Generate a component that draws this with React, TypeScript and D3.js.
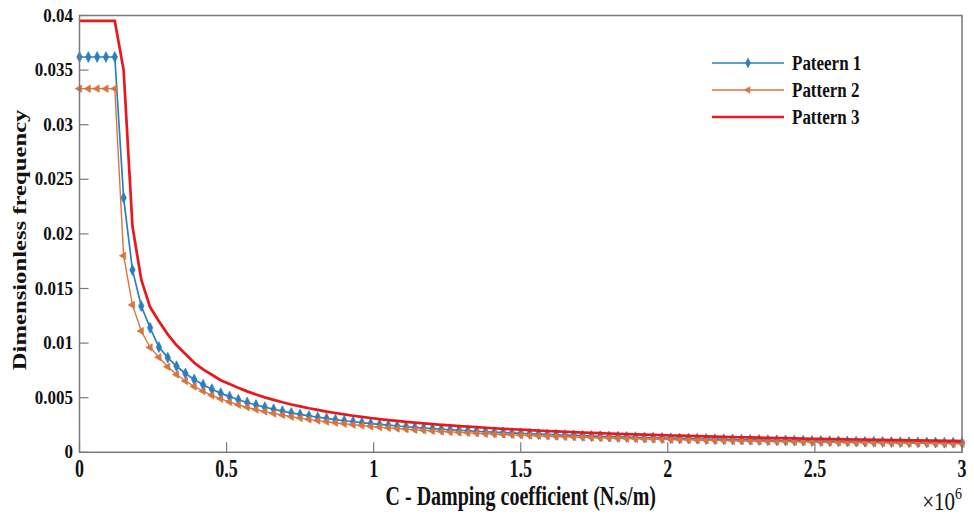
import React from "react";
import * as d3 from "d3";

const X_STEP = 0.03; // ×10^6 N.s/m
const xTicks = [0, 0.5, 1, 1.5, 2, 2.5, 3];
const yTicks = [0, 0.005, 0.01, 0.015, 0.02, 0.025, 0.03, 0.035, 0.04];
const yTickLabels = ["0", "0.005", "0.01", "0.015", "0.02", "0.025", "0.03", "0.035", "0.04"];
const seriesNames = ["Pateern 1", "Pattern 2", "Pattern 3"];

const pattern1 = [
  0.0362, 0.0362, 0.0362, 0.0362, 0.0362, 0.0233, 0.0167, 0.0134, 0.0114,
  0.00963, 0.00867, 0.00788, 0.00722, 0.00667, 0.00619, 0.00578, 0.00542, 0.0051, 0.00481,
  0.00456, 0.00433, 0.00413, 0.00394, 0.00377, 0.00361, 0.00347, 0.00333, 0.00321, 0.0031,
  0.00299, 0.00289, 0.0028, 0.00271, 0.00263, 0.00255, 0.00248, 0.00241, 0.00234, 0.00228,
  0.00222, 0.00217, 0.00211, 0.00206, 0.00202, 0.00197, 0.00193, 0.00188, 0.00184, 0.00181,
  0.00177, 0.00173, 0.0017, 0.00167, 0.00164, 0.0016, 0.00158, 0.00155, 0.00152, 0.00149,
  0.00147, 0.00144, 0.00142, 0.0014, 0.00138, 0.00135, 0.00133, 0.00131, 0.00129, 0.00127,
  0.00126, 0.00124, 0.00122, 0.0012, 0.00119, 0.00117, 0.00116, 0.00114, 0.00113, 0.00111,
  0.0011, 0.00108, 0.00107, 0.00106, 0.00104, 0.00103, 0.00102, 0.00101, 0.001, 0.00098,
  0.00097, 0.00096, 0.00095, 0.00094, 0.00093, 0.00092, 0.00091, 0.0009, 0.00089, 0.00088,
  0.00088, 0.00087,
];

const pattern2 = [
  0.0333, 0.0333, 0.0333, 0.0333, 0.0333, 0.018, 0.0135, 0.0111, 0.0096,
  0.0087, 0.00783, 0.00712, 0.00653, 0.00603, 0.0056, 0.00522, 0.0049, 0.00461, 0.00435,
  0.00412, 0.00392, 0.00373, 0.00356, 0.00341, 0.00326, 0.00313, 0.00301, 0.0029, 0.0028,
  0.0027, 0.00261, 0.00253, 0.00245, 0.00237, 0.0023, 0.00224, 0.00218, 0.00212, 0.00206,
  0.00201, 0.00196, 0.00191, 0.00187, 0.00182, 0.00178, 0.00174, 0.0017, 0.00167, 0.00163,
  0.0016, 0.00157, 0.00154, 0.00151, 0.00148, 0.00145, 0.00142, 0.0014, 0.00137, 0.00135,
  0.00133, 0.00131, 0.00128, 0.00126, 0.00124, 0.00122, 0.00121, 0.00119, 0.00117, 0.00115,
  0.00114, 0.00112, 0.0011, 0.00109, 0.00107, 0.00106, 0.00104, 0.00103, 0.00102, 0.001,
  0.00099, 0.00098, 0.00097, 0.00096, 0.00094, 0.00093, 0.00092, 0.00091, 0.0009, 0.00089,
  0.00088, 0.00087, 0.00086, 0.00085, 0.00084, 0.00083, 0.00082, 0.00082, 0.00081, 0.0008,
  0.00079, 0.00078,
];

const pattern3 = [
  0.0395, 0.0395, 0.0395, 0.0395, 0.0395, 0.035, 0.0207, 0.0158, 0.0133,
  0.012, 0.0108, 0.0098, 0.009, 0.0082, 0.0076, 0.0071, 0.0066, 0.00625, 0.0059,
  0.00558, 0.0053, 0.00503, 0.0048, 0.00458, 0.00438, 0.0042, 0.00403, 0.00388, 0.00373,
  0.0036, 0.00347, 0.00335, 0.00324, 0.00314, 0.00304, 0.00295, 0.00287, 0.00279, 0.00272,
  0.00265, 0.00258, 0.00252, 0.00246, 0.0024, 0.00235, 0.0023, 0.00225, 0.0022, 0.00215,
  0.00211, 0.00207, 0.00203, 0.00199, 0.00195, 0.00191, 0.00188, 0.00185, 0.00181, 0.00178,
  0.00175, 0.00172, 0.00169, 0.00167, 0.00164, 0.00161, 0.00159, 0.00157, 0.00154, 0.00152,
  0.0015, 0.00148, 0.00146, 0.00144, 0.00142, 0.0014, 0.00138, 0.00136, 0.00134, 0.00132,
  0.00131, 0.00129, 0.00128, 0.00126, 0.00124, 0.00123, 0.00122, 0.0012, 0.00119, 0.00117,
  0.00116, 0.00115, 0.00114, 0.00112, 0.00111, 0.0011, 0.00109, 0.00108, 0.00107, 0.00105,
  0.00104, 0.00103,
];

const W = 974;
const H = 515;
const M = { left: 79.5, right: 962, top: 15.5, bottom: 452.3 };
const BLUE = "#2a7fc1";
const ORANGE = "#d9743f";
const RED = "#e8191c";
const AXIS = "#7a7a7a";
const FONT = "'Liberation Serif', 'Times New Roman', serif";

export default function App() {
  const x = d3.scaleLinear().domain([0, 3]).range([M.left, M.right]);
  const y = d3.scaleLinear().domain([0, 0.04]).range([M.bottom, M.top]);
  const toPts = (vals: number[]) => vals.map((v, i) => [i * X_STEP, v] as [number, number]);
  const line = d3
    .line<[number, number]>()
    .x((d) => x(d[0]))
    .y((d) => y(d[1]));

  const p1 = toPts(pattern1);
  const p2 = toPts(pattern2);
  const p3 = toPts(pattern3);

  const diamond = d3.symbol().type(d3.symbolDiamond).size(26)() as string;
  const tri = d3.symbol().type(d3.symbolTriangle).size(24)() as string;

  const legendY = [63, 90, 117];

  return (
    <svg
      width={W}
      height={H}
      style={{ position: "absolute", left: 0, top: 0, background: "#fff" }}
      fontFamily={FONT}
      fontWeight="bold"
    >
      <rect x={0} y={0} width={W} height={H} fill="#fff" />
      {/* ticks */}
      {xTicks.map((t) => (
        <line key={"xt" + t} x1={x(t)} x2={x(t)} y1={M.bottom} y2={M.bottom - 10} stroke={AXIS} strokeWidth={1.2} />
      ))}
      {yTicks.map((t) => (
        <line key={"yt" + t} x1={M.left} x2={M.left + 9} y1={y(t)} y2={y(t)} stroke={AXIS} strokeWidth={1.2} />
      ))}
      {/* series */}
      <path d={line(p1) as string} fill="none" stroke={BLUE} strokeWidth={1.7} />
      {p1.map((d, i) => (
        <path key={"m1" + i} d={diamond} transform={`translate(${x(d[0])},${y(d[1])}) scale(1,1.15)`} fill={BLUE} stroke={BLUE} strokeWidth={0.6} />
      ))}
      <path d={line(p2) as string} fill="none" stroke={ORANGE} strokeWidth={1.4} />
      {p2.map((d, i) => (
        <path key={"m2" + i} d={tri} transform={`translate(${x(d[0])},${y(d[1])}) rotate(-90)`} fill={ORANGE} stroke={ORANGE} strokeWidth={0.6} />
      ))}
      <path d={line(p3) as string} fill="none" stroke={RED} strokeWidth={2.7} />
      {/* box */}
      <rect x={M.left} y={M.top} width={M.right - M.left} height={M.bottom - M.top} fill="none" stroke={AXIS} strokeWidth={1.5} />
      {/* tick labels */}
      {xTicks.map((t) => (
        <text key={"xl" + t} transform={`translate(${x(t)},477) scale(1,1.4)`} textAnchor="middle" fontSize={18} fill="#111">
          {String(t)}
        </text>
      ))}
      {yTicks.map((t, i) => (
        <text key={"yl" + t} transform={`translate(73,${y(t) + 6}) scale(1,1.1)`} textAnchor="end" fontSize={17} fill="#111">
          {yTickLabels[i]}
        </text>
      ))}
      {/* axis titles */}
      <text transform={`translate(${(M.left + M.right) / 2},505) scale(1,1.35)`} textAnchor="middle" fontSize={20} fill="#111">
        C - Damping coefficient (N.s/m)
      </text>
      <text transform="translate(962,510) scale(1,1.2)" textAnchor="end" fontSize={21} fill="#111" fontWeight="normal">
        ×10<tspan dy={-9} fontSize={14}>6</tspan>
      </text>
      <text
        transform={`translate(26,${(M.top + M.bottom) / 2 + 6}) rotate(-90) scale(1.3,1)`}
        textAnchor="middle"
        fontSize={19}
        fill="#111"
      >
        Dimensionless frequency
      </text>
      {/* legend */}
      {seriesNames.map((n, i) => (
        <g key={n}>
          <line x1={712} x2={784} y1={legendY[i]} y2={legendY[i]} stroke={[BLUE, ORANGE, RED][i]} strokeWidth={[1.7, 1.4, 2.7][i]} />
          {i === 0 && <path d={diamond} transform={`translate(748,${legendY[i]}) scale(1,1.15)`} fill={BLUE} />}
          {i === 1 && <path d={tri} transform={`translate(748,${legendY[i]}) rotate(-90)`} fill={ORANGE} />}
          <text transform={`translate(792,${legendY[i] + 7}) scale(1,1.2)`} fontSize={17} fill="#111">
            {n}
          </text>
        </g>
      ))}
    </svg>
  );
}
